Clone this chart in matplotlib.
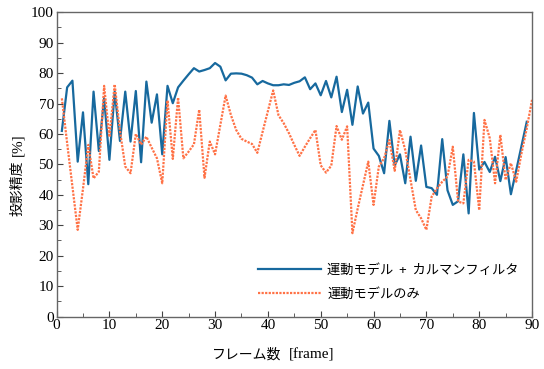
import numpy as np
import matplotlib
matplotlib.use('Agg')
import matplotlib.pyplot as plt
from matplotlib.ticker import MultipleLocator

# values
frames_kf = list(range(1, 90))
acc_kf = [61.0, 75.3, 77.5, 50.9, 67.1, 43.5, 73.9, 54.4, 71.7, 51.5,
          73.9, 57.7, 73.9, 57.5, 74.1, 50.7, 77.2, 63.7, 73.0, 53.3,
          75.8, 70.1, 75.3, 77.5, 79.6, 81.6, 80.5, 81.0, 81.6, 83.3,
          82.1, 77.6, 79.8, 79.9, 79.8, 79.3, 78.5, 76.3, 77.4, 76.6,
          76.0, 76.0, 76.3, 76.1, 76.8, 77.3, 78.6, 74.7, 76.6, 72.7,
          77.4, 72.0, 78.8, 67.2, 74.5, 63.0, 75.6, 66.7, 70.3, 55.2,
          52.8, 47.1, 64.3, 49.6, 53.3, 43.8, 59.1, 44.6, 56.2, 42.6,
          42.2, 40.0, 58.3, 41.5, 36.7, 37.9, 53.3, 33.9, 66.9, 48.3,
          50.8, 47.5, 52.5, 44.5, 52.4, 40.2, 48.0, 56.0, 64.0]

frames_mo = list(range(1, 91))
acc_mo = [71.7, 57.0, 42.7, 28.5, 42.0, 56.4, 45.4, 47.6, 75.8, 59.0,
          76.3, 61.0, 49.3, 47.1, 60.0, 56.5, 59.1, 55.5, 52.0, 43.8,
          71.0, 51.8, 72.0, 52.0, 54.2, 56.6, 68.0, 45.6, 57.5, 53.3,
          63.0, 72.6, 66.2, 61.3, 58.4, 57.5, 56.7, 53.8, 60.7, 67.5,
          74.3, 66.2, 63.5, 60.2, 56.4, 52.8, 55.8, 58.6, 61.3, 49.7,
          47.3, 49.6, 62.6, 58.1, 62.5, 27.4, 35.5, 43.2, 50.9, 36.7,
          49.3, 52.0, 58.0, 47.9, 61.3, 54.7, 44.9, 35.0, 32.3, 28.5,
          39.4, 42.1, 44.3, 46.0, 55.8, 37.8, 37.2, 51.5, 50.9, 35.0,
          64.6, 58.6, 43.8, 59.7, 44.9, 50.4, 44.3, 53.6, 61.8, 71.2]

jp = ['Noto Sans CJK JP', 'DejaVu Sans']
serif = 'Liberation Serif'

fig = plt.figure(figsize=(5.44, 3.69), dpi=100)
ax = fig.add_axes([0.104, 0.142, 0.874, 0.825])

ax.plot(frames_kf, acc_kf, color='#17699e', lw=1.6,
        label='運動モデル  +  カルマンフィルタ')
ax.plot(frames_mo, acc_mo, color='#ff7246', lw=1.6, linestyle=(0, (1, 0.6)),
        label='運動モデルのみ')

ax.set_xlim(0, 90)
ax.set_ylim(0, 100)
ax.xaxis.set_major_locator(MultipleLocator(10))
ax.xaxis.set_minor_locator(MultipleLocator(5))
ax.yaxis.set_major_locator(MultipleLocator(10))
ax.yaxis.set_minor_locator(MultipleLocator(5))
ax.tick_params(which='both', direction='in', top=False, right=False,
               color='#444444', labelsize=11, pad=2)
ax.tick_params(which='major', length=4.5)
ax.tick_params(which='minor', length=3)
for lab in ax.get_xticklabels() + ax.get_yticklabels():
    lab.set_family(serif)
for s in ax.spines.values():
    s.set_color('#666666')
    s.set_linewidth(1.0)

# axis labels: japanese part in gothic, unit part in serif
fig.text(0.518, 0.038, 'フレーム数', family=jp, fontsize=10, ha='right', va='center')
fig.text(0.531, 0.038, '[frame]', family=serif, fontsize=11, ha='left', va='center')
fig.text(0.033, 0.49, '投影精度', family=jp, fontsize=10, rotation=90,
         ha='center', va='center')
fig.text(0.033, 0.608, '[%]', family=serif, fontsize=11, rotation=90,
         ha='center', va='center')

leg = ax.legend(loc='center left', bbox_to_anchor=(0.4235, 0.112), frameon=False,
                prop={'family': jp, 'size': 9.5}, handlelength=4.8,
                handletextpad=0.45, labelspacing=0.85, borderpad=0,
                borderaxespad=0)

fig.savefig('out.png', dpi=100)
